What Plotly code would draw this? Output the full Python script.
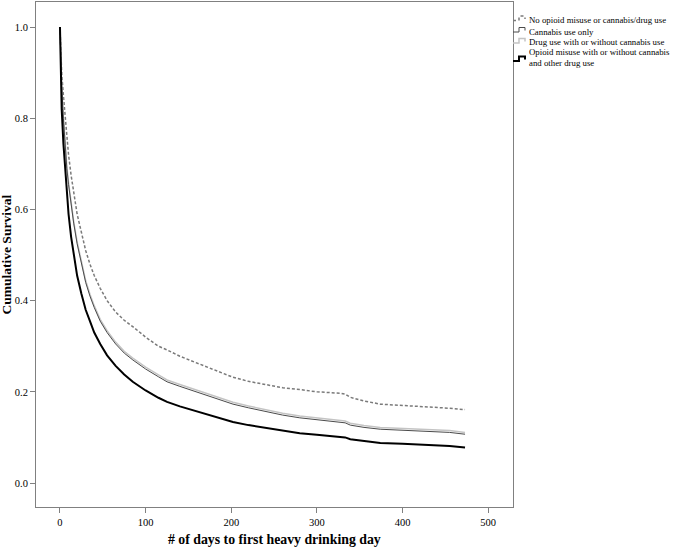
import plotly.graph_objects as go

days = [0, 1, 2, 4, 6, 8, 10, 13, 16, 20, 25, 30, 35, 40, 47, 55, 65, 75, 85, 100,
        115, 125, 140, 164, 185, 202, 220, 242, 260, 280, 300, 327, 333, 339, 355,
        374, 400, 436, 455, 473]

surv_none = [1.0, 0.94, 0.90, 0.85, 0.80, 0.76, 0.72, 0.675, 0.635, 0.59, 0.55, 0.51,
             0.48, 0.455, 0.427, 0.40, 0.375, 0.357, 0.343, 0.32, 0.30, 0.292, 0.278,
             0.26, 0.245, 0.232, 0.223, 0.215, 0.209, 0.205, 0.20, 0.197, 0.195, 0.188,
             0.18, 0.173, 0.17, 0.167, 0.164, 0.161]

surv_cannabis = [1.0, 0.92, 0.87, 0.80, 0.74, 0.69, 0.655, 0.61, 0.57, 0.525, 0.48, 0.44,
                 0.41, 0.385, 0.355, 0.33, 0.305, 0.285, 0.27, 0.25, 0.233, 0.222, 0.212,
                 0.197, 0.183, 0.173, 0.165, 0.156, 0.149, 0.143, 0.139, 0.134, 0.132,
                 0.127, 0.122, 0.118, 0.116, 0.113, 0.111, 0.107]

surv_drug = [1.0, 0.922, 0.873, 0.803, 0.744, 0.694, 0.659, 0.614, 0.574, 0.529, 0.484,
             0.444, 0.414, 0.389, 0.359, 0.334, 0.309, 0.289, 0.274, 0.254, 0.237, 0.226,
             0.216, 0.201, 0.187, 0.177, 0.169, 0.16, 0.153, 0.147, 0.143, 0.138, 0.136,
             0.131, 0.126, 0.122, 0.12, 0.117, 0.115, 0.111]

surv_opioid = [1.0, 0.88, 0.82, 0.745, 0.686, 0.627, 0.59, 0.54, 0.50, 0.455, 0.415, 0.38,
               0.355, 0.33, 0.305, 0.28, 0.257, 0.238, 0.222, 0.203, 0.187, 0.178, 0.168,
               0.155, 0.142, 0.134, 0.127, 0.12, 0.114, 0.109, 0.106, 0.102, 0.10, 0.096,
               0.092, 0.088, 0.086, 0.083, 0.081, 0.078]

names = ["No opioid misuse or cannabis/drug use",
         "Cannabis use only",
         "Drug use with or without cannabis use",
         "Opioid misuse with or without cannabis<br>and other drug use"]

x_ticks = [0, 100, 200, 300, 400, 500]
y_ticks = [0.0, 0.2, 0.4, 0.6, 0.8, 1.0]
y_tick_text = ["0.0", "0.2", "0.4", "0.6", "0.8", "1.0"]

FONT = "Liberation Serif, Times New Roman, serif"
W, H = 675, 547
ML, MR, MT, MB = 36, 162, 2, 40
PW, PH = W - ML - MR, H - MT - MB


def px(x):
    return (x - ML) / PW


def py(y):
    return (H - MB - y) / PH


styles = [dict(color="#7a7a7a", width=1.5, dash="3px,2px"),
          dict(color="#4a4a4a", width=1),
          dict(color="#c4c4c4", width=1.5),
          dict(color="#000000", width=2)]
series = [surv_none, surv_cannabis, surv_drug, surv_opioid]
draw_order = [0, 2, 1, 3]

fig = go.Figure()
for i in draw_order:
    fig.add_trace(go.Scatter(x=days, y=series[i], mode="lines", name=names[i],
                             line=styles[i], showlegend=False))

# manual legend (outside plot, right)
legend_y = [20, 31.5, 42.5, 58]
icon_low = [20.5, 32, 43, 61]
annotations = []
shapes = []
for i in range(4):
    annotations.append(dict(text=names[i], x=px(527), y=py(legend_y[i]), xref="paper",
                            yref="paper", xanchor="left", yanchor="middle", align="left",
                            showarrow=False, font=dict(size=8.8, family=FONT, color="black")))
    lo = icon_low[i]
    hi = lo - 4.5
    path = (f"M {px(513)},{py(lo)} L {px(519)},{py(lo)} L {px(519)},{py(hi)} "
            f"L {px(525)},{py(hi)} L {px(525)},{py(lo - 1.5)}")
    st = styles[i]
    shapes.append(dict(type="path", path=path, xref="paper", yref="paper",
                       line=dict(color=st["color"], width=st["width"],
                                 dash="dot" if i == 0 else "solid")))

annotations.append(dict(text="<b># of days to first heavy drinking day</b>", x=0.5,
                        y=py(539), xref="paper", yref="paper", xanchor="center",
                        yanchor="middle", showarrow=False,
                        font=dict(size=13.8, family=FONT, color="black")))
annotations.append(dict(text="<b>Cumulative Survival</b>", x=px(6), y=0.5, xref="paper",
                        yref="paper", xanchor="center", yanchor="middle", textangle=-90,
                        showarrow=False, font=dict(size=13.5, family=FONT, color="black")))

fig.update_layout(
    width=W, height=H,
    margin=dict(l=ML, r=MR, t=MT, b=MB),
    paper_bgcolor="white", plot_bgcolor="white",
    font=dict(family=FONT, size=10.5, color="black"),
    showlegend=False,
    annotations=annotations,
    shapes=shapes,
    xaxis=dict(range=[-28, 529], tickvals=x_ticks, ticks="outside", ticklen=5,
               tickcolor="#808080", showline=True, linecolor="#808080", mirror=True,
               showgrid=False, zeroline=False, automargin=False,
               tickfont=dict(size=10.5, family=FONT)),
    yaxis=dict(range=[-0.0526, 1.055], tickvals=y_ticks, ticktext=y_tick_text,
               ticks="outside", ticklen=5, tickcolor="#808080", showline=True,
               linecolor="#808080", mirror=True, showgrid=False, zeroline=False,
               automargin=False, tickfont=dict(size=10.5, family=FONT)),
)

fig.write_html("out.html", config={"displayModeBar": False},
               post_script="document.body.style.margin='0';document.body.style.overflow='hidden';")
